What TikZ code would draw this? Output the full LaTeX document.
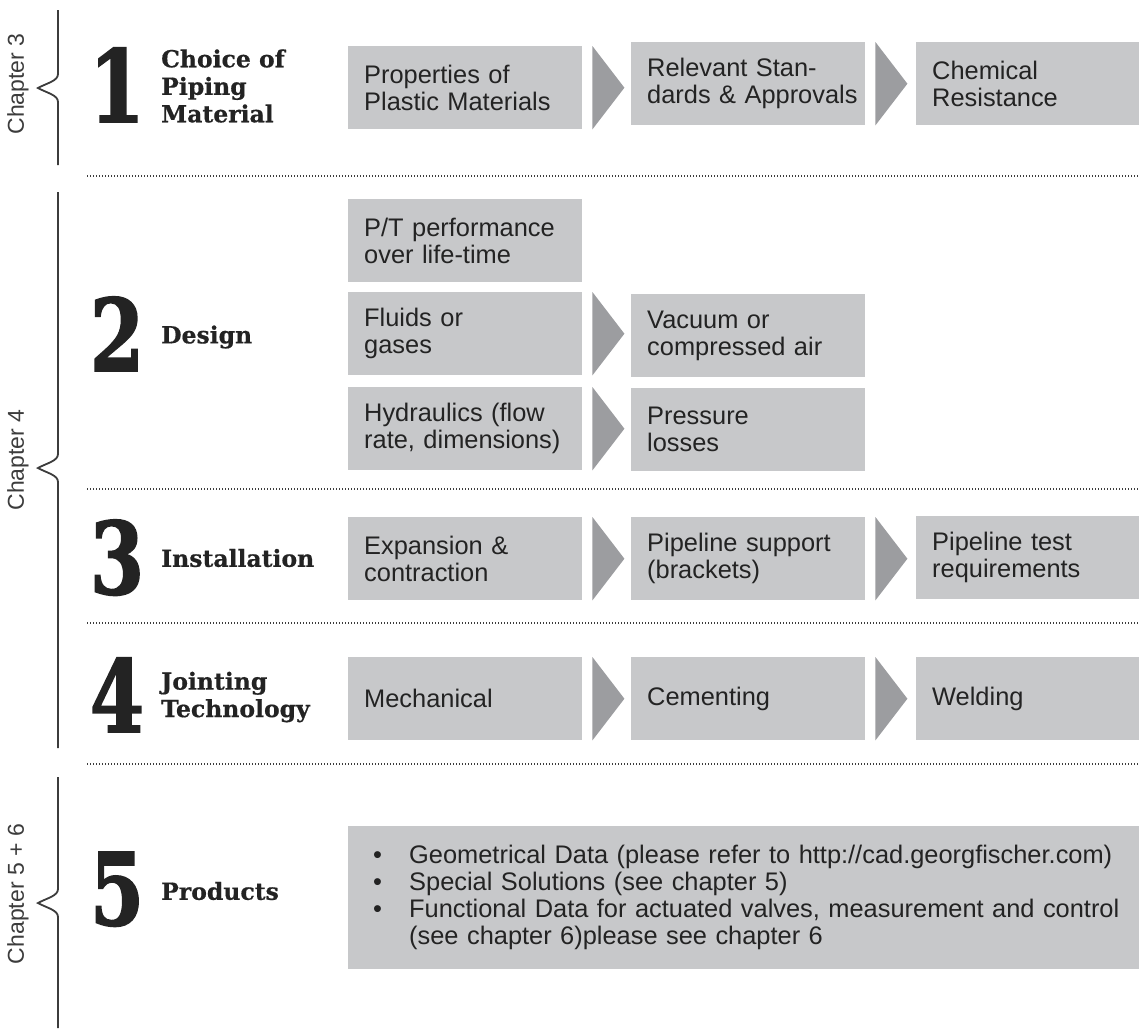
\documentclass[tikz,border=0pt]{standalone}
\usepackage{fontspec}
\setmainfont{Liberation Sans}
\newfontfamily\slabfont[BoldFeatures={FakeBold=0.6}]{DejaVu Serif}
\newfontfamily\numfont[BoldFeatures={FakeBold=1.8}]{DejaVu Serif}
\usetikzlibrary{calc}
\definecolor{boxgray}{HTML}{C7C8CA}
\definecolor{arrowgray}{HTML}{9C9DA0}
\definecolor{ink}{HTML}{232323}
\definecolor{rulegray}{HTML}{3C3C3C}
\newcommand{\bul}{\makebox[36pt][l]{\textbullet}}
\newcommand{\chapbrace}[3]{%
  \draw[brace line] (58,#1) -- (58,#2-14) .. controls (58,#2-7) and (47,#2-5) .. (38,#2)
    .. controls (47,#2+5) and (58,#2+7) .. (58,#2+14) -- (58,#3);}

\begin{document}
\begin{tikzpicture}[x=1pt, y=-1pt,
    box/.style={fill=boxgray, text=ink, font=\fontsize{25.4}{27}\selectfont, align=left,
      inner xsep=16pt, inner ysep=0pt, minimum height=83pt, anchor=north west},
    wide/.style={box, text width=202pt},
    last/.style={box, text width=191pt},
    title/.style={font=\slabfont\bfseries\fontsize{23.5}{27.5}\selectfont, text=ink,
      align=left, anchor=west, inner sep=0pt},
    bignum/.style={font=\numfont\bfseries\fontsize{100}{100}\selectfont, text=ink,
      anchor=base, inner sep=0pt},
    chap/.style={font=\fontsize{23}{23}\selectfont, text=rulegray, rotate=90, inner sep=0pt},
    separator/.style={rulegray, line width=1.3pt, dash pattern=on 1.3pt off 1.7pt},
    brace line/.style={rulegray, line width=1.8pt}]
        \useasboundingbox (0,0) rectangle (1139,1028);

        % chapters
        \chapbrace{10}{88}{165}
        \chapbrace{192}{468}{748}
        \chapbrace{777}{903}{1028}
        \node[chap] (ch3) at (18,84) {Chapter 3};
        \node[chap] (ch4) at (18,460) {Chapter 4};
        \node[chap] (ch5) at (18,894) {Chapter 5 + 6};

        % separators
        \draw[separator] (87,176) -- (1139,176);
        \draw[separator] (87,489) -- (1139,489);
        \draw[separator] (87,623) -- (1139,623);
        \draw[separator] (87,764) -- (1139,764);

        % 1
        \node[bignum] (n1) at (117,122) {\scalebox{0.8}[1]{1}};
        \node[title] (t1) at (161,86) {Choice of\\Piping\\Material};
        \node[wide] (mat1) at (348,46) {Properties of\\Plastic Materials};
        \node[wide] (mat2) at (631,42) {Relevant Stan-\\\mbox{dards \& Approvals}};
        \node[last] (mat3) at (916,42) {Chemical\\Resistance};

        % 2
        \node[bignum] (n2) at (117,371) {\scalebox{0.78}[1]{2}};
        \node[title] (t2) at (161,337) {Design};
        \node[wide] (des1) at (348,199) {P/T performance\\over life-time};
        \node[wide] (des2) at (348,292) {Fluids or\\gases};
        \node[wide] (des3) at (631,294) {Vacuum or\\compressed air};
        \node[wide] (des4) at (348,387) {Hydraulics (flow\\\mbox{rate, dimensions)}};
        \node[wide] (des5) at (631,388) {Pressure\\losses};

        % 3
        \node[bignum] (n3) at (117,594) {\scalebox{0.78}[1]{3}};
        \node[title] (t3) at (161,558) {Installation};
        \node[wide] (ins1) at (348,517) {Expansion \&\\contraction};
        \node[wide] (ins2) at (631,517) {Pipeline support\\(brackets)};
        \node[last] (ins3) at (916,516) {Pipeline test\\requirements};

        % 4
        \node[bignum] (n4) at (117,732) {\scalebox{0.78}[1]{4}};
        \node[title] (t4) at (161,697) {Jointing\\Technology};
        \node[wide] (joi1) at (348,657) {Mechanical};
        \node[wide] (joi2) at (631,657) {Cementing};
        \node[last] (joi3) at (916,657) {Welding};

        % 5
        \node[bignum] (n5) at (117,925) {\scalebox{0.78}[1]{5}};
        \node[title] (t5) at (161,891) {Products};
        \node[box, text width=741pt, inner xsep=25pt, minimum height=143pt] (prod) at (348,826)
          {\mbox{\bul Geometrical Data (please refer to http://cad.georgfischer.com)}\\
           \mbox{\bul Special Solutions (see chapter 5)}\\
           \mbox{\bul Functional Data for actuated valves, measurement and control}\\
           \mbox{\hspace*{36pt}(see chapter 6)please see chapter 6}};

        % arrows
        \foreach \b in {mat1,mat2,des2,des4,ins1,ins2,joi1,joi2}
          \fill[arrowgray] ($(\b.north east)+(10,0)$) -- ($(\b.east)+(42,0)$) -- ($(\b.south east)+(10,0)$) -- cycle;
      \end{tikzpicture}
\end{document}
